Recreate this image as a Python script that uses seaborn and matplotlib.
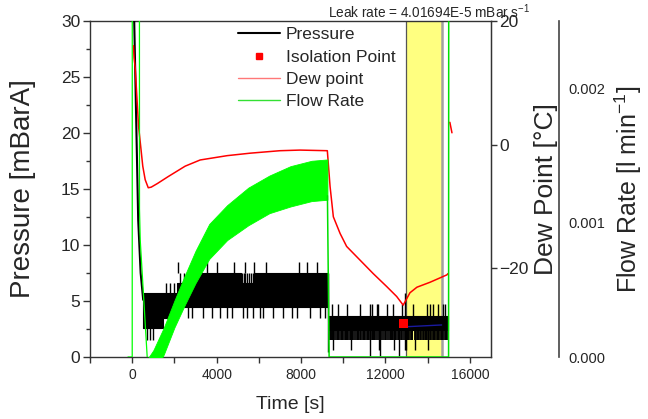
import matplotlib
matplotlib.use("Agg")
import matplotlib.pyplot as plt
from matplotlib.lines import Line2D
from matplotlib.ticker import MultipleLocator, FixedLocator, FormatStrFormatter
import seaborn as sns

# ---------------- data ----------------
# Pressure [mBarA] : initial pump-down
p_init_t = [0, 95, 284, 400, 520]
p_init_v = [60, 30, 12.2, 7.5, 5.1]

# Pressure dense noisy band (core envelope), phase 1 (t 520 .. 9300)
p_band1_t = [520, 1470, 1470, 2130, 2130, 3000, 3000, 5150, 5150, 5780, 5780, 9290]
p_band1_lo = [2.56, 2.56, 3.45, 3.45, 4.5, 4.5, 4.5, 4.5, 4.5, 4.5, 4.5, 4.5]
p_band1_hi = [5.69, 5.69, 5.69, 5.69, 6.58, 6.58, 7.47, 7.47, 6.58, 6.58, 7.47, 7.47]

# Pressure dense noisy band, phase 2 (isolation, t 9330 .. 14950)
p_band2_t = [9330, 14950]
p_band2_lo = [2.41, 2.41]
p_band2_hi = [3.67, 3.67]

# Pressure spikes, phase 1 (time, from, to)
p1_spike_t = [710, 850, 1000,
              1600, 1800, 2000,
              2250, 2450, 2600, 2850, 5200, 5290, 5330, 5450, 5520, 5640, 5700,
              2180, 3080, 3550, 4020, 4830, 5350, 5780, 6340, 7910, 8280, 8760,
              2650, 2840, 3360, 3790, 4170, 4500, 4730, 5250, 5440, 5730, 6060, 6200,
              6670, 7150, 7570, 7810, 8430, 8900, 9140,
              9300]
p1_spike_from = [2.56, 2.56, 2.56,
                 5.69, 5.69, 5.69,
                 6.58, 6.58, 6.58, 6.58, 6.58, 6.58, 6.58, 6.58, 6.58, 6.58, 6.58,
                 7.47, 7.47, 7.47, 7.47, 7.47, 7.47, 7.47, 7.47, 7.47, 7.47, 7.47,
                 4.5, 4.5, 4.5, 4.5, 4.5, 4.5, 4.5, 4.5, 4.5, 4.5, 4.5, 4.5,
                 4.5, 4.5, 4.5, 4.5, 4.5, 4.5, 4.5,
                 0.45]
p1_spike_to = [1.52, 1.52, 1.52,
               6.58, 6.58, 6.58,
               7.47, 7.47, 7.47, 7.47, 7.47, 7.47, 7.47, 7.47, 7.47, 7.47, 7.47,
               8.5, 8.5, 8.5, 8.5, 8.5, 8.5, 8.5, 8.5, 8.5, 8.5, 8.5,
               3.45, 3.45, 3.45, 3.45, 3.45, 3.45, 3.45, 3.45, 3.45, 3.45, 3.45, 3.45,
               3.45, 3.45, 3.45, 3.45, 3.45, 3.45, 3.45,
               7.47]

# Pressure spikes, phase 2: upward to 4.7 mBar
p2_up_t = [9470, 9750, 10180, 10790, 11270, 11360, 11600, 11650, 12070, 12360, 12780,
           13300, 13970, 14110, 14250, 14490, 14720, 14820]
p2_up_to = [4.7] * len(p2_up_t)
# tall upward spike at the isolation instant
p2_tall_t = [12920]
p2_tall_from = [0.6]
p2_tall_to = [5.7]
# phase 2: dense downward spikes to 1.5 mBar
p2_down_t = [9380, 9420, 9480, 9530, 9600, 9690, 9750, 9800, 9870, 9930, 10010, 10070,
             10120, 10190, 10230, 10300, 10370, 10410, 10480, 10560, 10640, 10690,
             10720, 10800, 10860, 10940, 11000, 11050, 11120, 11180, 11230, 11340,
             11400, 11450, 11520, 11580, 11690, 11740, 11810, 11880, 11960, 12030,
             12110, 12200, 12250, 12290, 12350, 12430, 12510, 12580, 12620, 12720,
             12800, 12870, 13020, 13080, 13110, 13190, 13240, 13280, 13390, 13470,
             13520, 13560, 13650, 13700, 13760, 13830, 13900, 13940, 14030, 14090,
             14160, 14230, 14290, 14340, 14420, 14480, 14540, 14610, 14660, 14700,
             14790, 14850, 14880, 14930]
p2_down_to = [1.52] * len(p2_down_t)
# phase 2: deeper downward spikes
p2_deep_t = [9500, 10350, 11700, 12400, 12950, 13400, 14000, 11280, 11760, 12660]
p2_deep_to = [0.63, 0.63, 0.63, 0.63, 0.63, 0.63, 0.63, 0.05, 0.05, 0.05]

# Isolation point and leak-rate fit
iso_t = [12840]
iso_p = [3.0]
fit_t = [12960, 14660]
fit_p = [2.7, 2.86]
leak_window = [12960, 14680]

# Dew point [°C]
dew_t = [60, 90, 140, 300, 500, 615, 760, 900, 1200, 1700, 2510, 3220, 4500, 5590,
         7000, 7950, 9245, 9375, 9530, 9850, 10160, 10790, 11420, 12060, 12530, 12840,
         13160, 13490, 14110, 14910, 14960]
dew_v = [16, 14, 12.5, 3, -3.5, -5.7, -7.0, -6.9, -6.3, -5.2, -3.5, -2.5, -1.8, -1.4,
         -1.0, -0.9, -1.0, -6.8, -11.7, -14.4, -16.5, -18.7, -20.9, -23.0, -24.6, -26.0,
         -24.0, -23.1, -22.3, -21.1, -20.9]
dew_end_t = [15050, 15150]
dew_end_v = [3.6, 1.9]

# Flow rate [l min-1]
flow_start_t = [-200, 0, 5, 340, 345, 380, 710]
flow_start_v = [0, 0, 0.004, 0.004, 0.0011, 0.00087, 0.0]
flow_band_t = [700, 1000, 1500, 2000, 2500, 3000, 3650, 4500, 5500, 6500, 7500, 8500, 9250]
flow_band_lo = [-0.00018, -0.00013, 0.00002, 0.00022, 0.00039, 0.00055, 0.00073,
                0.00087, 0.00098, 0.00107, 0.00112, 0.00116, 0.00117]
flow_band_hi = [-0.00002, 0.00005, 0.00022, 0.00042, 0.00061, 0.00079, 0.00099,
                0.00113, 0.00126, 0.00135, 0.00142, 0.00146, 0.00147]
flow_end_t = [9250, 9330, 14990, 15000]
flow_end_v = [0.0012, 0.0, 0.0, 0.004]

x_ticks = [0, 4000, 8000, 12000, 16000]
p_ticks = [0, 5, 10, 15, 20, 25, 30]
dew_ticks = [-20, 0, 20]
flow_ticks = [0.0, 0.001, 0.002]

# ---------------- style ----------------
sns.set_style("ticks")
plt.rcParams["font.family"] = ["Liberation Sans", "DejaVu Sans"]
plt.rcParams["mathtext.fontset"] = "custom"
plt.rcParams["mathtext.rm"] = "Liberation Sans"
plt.rcParams["mathtext.it"] = "Liberation Sans:italic"
plt.rcParams["mathtext.bf"] = "Liberation Sans:bold"

spine_col = "#333333"
fig = plt.figure(figsize=(6.48, 4.19), dpi=100)
ax = fig.add_axes([90 / 648, 62 / 419, 401 / 648, 336 / 419])
ax2 = ax.twinx()
ax3 = ax.twinx()

# ---------------- main axis: pressure ----------------
ax.axvspan(leak_window[0], leak_window[1], color="#FFFF80", zorder=0, lw=0)
ax.axvline(leak_window[0], color="#555555", lw=0.9, zorder=1)
ax.axvline(leak_window[1], color="#A0A0A0", lw=1.8, zorder=1)

ax.fill_between(p_band1_t, p_band1_lo, p_band1_hi, color="black", lw=0.8, zorder=2)
ax.fill_between(p_band2_t, p_band2_lo, p_band2_hi, color="black", lw=0.8, zorder=2)
ax.vlines(p1_spike_t, p1_spike_from, p1_spike_to, colors="black", lw=1.0, zorder=2)
ax.vlines(p2_up_t, p2_band2_hi if False else p_band2_hi[0], p2_up_to, colors="black",
          lw=1.0, zorder=2)
ax.vlines(p2_tall_t, p2_tall_from, p2_tall_to, colors="black", lw=1.0, zorder=2)
ax.vlines(p2_down_t, p2_down_to, p_band2_lo[0], colors="black", lw=1.3, zorder=2)
ax.vlines(p2_deep_t, p2_deep_to, p_band2_lo[0], colors="black", lw=1.0, zorder=2)
sns.lineplot(x=p_init_t, y=p_init_v, ax=ax, color="black", lw=1.5, sort=False,
             estimator=None, zorder=3)
sns.lineplot(x=fit_t, y=fit_p, ax=ax, color="#1A1AA0", lw=1.0, sort=False,
             estimator=None, zorder=4)
sns.scatterplot(x=iso_t, y=iso_p, ax=ax, marker="s", color="red", s=40,
                edgecolor="none", zorder=5)

ax.set_xlim(-2000, 17000)
ax.set_ylim(0, 30)
ax.xaxis.set_major_locator(FixedLocator(x_ticks))
ax.xaxis.set_minor_locator(MultipleLocator(2000))
ax.yaxis.set_major_locator(FixedLocator(p_ticks))
ax.yaxis.set_minor_locator(MultipleLocator(2.5))
ax.tick_params(axis="x", which="both", direction="out", length=4, width=1,
               color=spine_col, labelsize=10, pad=4)
ax.tick_params(axis="y", which="major", direction="out", length=5, width=1,
               color=spine_col, labelsize=12.5, pad=2)
ax.tick_params(axis="y", which="minor", direction="out", length=3, width=1,
               color=spine_col)
ax.tick_params(axis="y", which="both", right=False)
ax.tick_params(axis="x", which="both", top=False)
for s in ax.spines.values():
    s.set_visible(True)
    s.set_color(spine_col)
    s.set_linewidth(1.0)
ax.set_xlabel("Time [s]", fontsize=14, labelpad=10)
ax.set_ylabel("Pressure [mBarA]", fontsize=20, labelpad=18)

# ---------------- dew point axis ----------------
sns.lineplot(x=dew_t, y=dew_v, ax=ax2, color="#FF0000", lw=1.1, sort=False,
             estimator=None)
sns.lineplot(x=dew_end_t, y=dew_end_v, ax=ax2, color="#FF0000", lw=1.1, sort=False,
             estimator=None)
ax2.set_ylim(-34.4, 20)
ax2.yaxis.set_major_locator(FixedLocator(dew_ticks))
ax2.tick_params(axis="y", direction="out", length=4, width=1, color=spine_col,
                labelsize=12.5, pad=2)
for k in ["left", "top", "bottom"]:
    ax2.spines[k].set_visible(False)
ax2.spines["right"].set_color(spine_col)
ax2.set_ylabel("Dew Point [°C]", fontsize=19, labelpad=4)

# ---------------- flow rate axis ----------------
ax3.spines["right"].set_position(("axes", (559 - 90) / 401))
sns.lineplot(x=flow_start_t, y=flow_start_v, ax=ax3, color="#00FF00", lw=0.9,
             sort=False, estimator=None)
ax3.fill_between(flow_band_t, flow_band_lo, flow_band_hi, color="#00FF00", lw=0.6)
sns.lineplot(x=flow_end_t, y=flow_end_v, ax=ax3, color="#00E000", lw=1.1,
             sort=False, estimator=None)
ax3.set_ylim(0, 0.0025)
ax3.set_xlim(-2000, 17000)
ax3.yaxis.set_major_locator(FixedLocator(flow_ticks))
ax3.yaxis.set_major_formatter(FormatStrFormatter("%.3f"))
ax3.tick_params(axis="y", length=0, labelsize=10.5, pad=7)
for k in ["left", "top", "bottom"]:
    ax3.spines[k].set_visible(False)
ax3.spines["right"].set_color("#444444")
ax3.spines["right"].set_linewidth(1.2)
ax3.set_ylabel("Flow Rate [l min$^{-1}$]", fontsize=18, labelpad=5)
ax2.set_xlim(-2000, 17000)
ax.set_xlim(-2000, 17000)

# ---------------- legend ----------------
handles = [
    Line2D([], [], color="black", lw=1.5),
    Line2D([], [], color="red", marker="s", ls="none", ms=5),
    Line2D([], [], color="#FF7878", lw=1.0),
    Line2D([], [], color="#33E033", lw=1.0),
]
labels = ["Pressure", "Isolation Point", "Dew point", "Flow Rate"]
leg = ax3.legend(handles, labels, loc="upper left",
                 bbox_to_anchor=(238 / 648, 1 - 27 / 419),
                 bbox_transform=fig.transFigure, frameon=False, fontsize=12.5,
                 borderpad=0, borderaxespad=0, handlelength=2.4,
                 handletextpad=0.35, labelspacing=0.42)
leg.set_zorder(20)

fig.text(328 / 648, 1 - 18 / 419, "Leak rate = 4.01694E-5 mBar s$^{-1}$",
         fontsize=9.8, va="baseline", ha="left")

fig.savefig("out.png", dpi=100)
